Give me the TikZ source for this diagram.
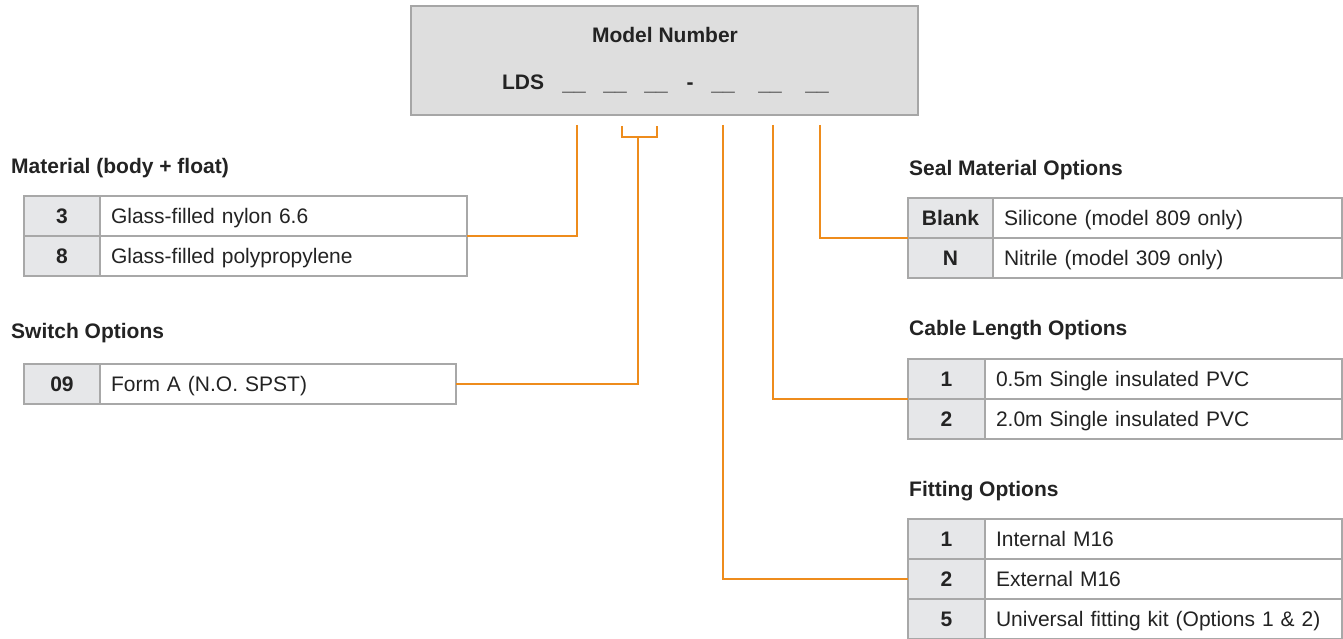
\documentclass[tikz,border=0pt]{standalone}
\usepackage{fontspec}
\setmainfont{Liberation Sans}
\usepackage{tikz}
\usetikzlibrary{positioning,fit}
\definecolor{txt}{RGB}{35,35,35}
\definecolor{grid}{RGB}{168,168,168}
\definecolor{keyfill}{RGB}{230,231,233}
\definecolor{boxfill}{RGB}{222,222,222}
\definecolor{boxline}{RGB}{166,166,166}
\definecolor{leadc}{RGB}{238,140,28}
\newcommand{\bfsz}{\fontsize{21}{25}\selectfont\bfseries}

\begin{document}
\begin{tikzpicture}[x=1pt,y=-1pt,font=\fontsize{21}{25}\selectfont,text=txt,
 cell/.style={draw=grid,line width=1.8pt,outer sep=0pt,inner sep=0pt,minimum height=40pt,
  text height=15pt,text depth=0.5pt},
 key/.style={cell,fill=keyfill,font=\bfsz},
 opt/.style={cell,fill=white,inner xsep=11pt,align=left},
 hd/.style={anchor=west,inner sep=0pt,font=\bfsz},
 ch/.style={anchor=base,font=\bfsz},
 ld/.style={draw=leadc,line width=1.8pt}]
\useasboundingbox (0,0) rectangle (1343,639);

% model number box
\node[draw=boxline,fill=boxfill,line width=1.8pt,minimum width=507pt,minimum height=109pt] (model) at (664.5,60.5) {};
\node[font=\bfsz] (title) at (665,35) {Model Number};
\node[ch] (lds) at (523,90) {LDS};
\node[ch] (u1) at (574,91) {\_\_};
\node[ch] (u2) at (615,91) {\_\_};
\node[ch] (u3) at (656,91) {\_\_};
\node[ch] (dash) at (690,90) {-};
\node[ch] (u4) at (723,91) {\_\_};
\node[ch] (u5) at (770,91) {\_\_};
\node[ch] (u6) at (817,91) {\_\_};

% material
\node[hd] (hmat) at (11,168) {Material (body + float)};
\node[key,minimum width=76pt,anchor=north west] (m1k) at (24,196) {3};
\node[opt,text width=345pt,right=0pt of m1k] (m1) {Glass-filled nylon 6.6};
\node[key,minimum width=76pt,below=0pt of m1k] (m2k) {8};
\node[opt,text width=345pt,right=0pt of m2k] (m2) {Glass-filled polypropylene};
\node[fit=(m1k)(m2),inner sep=0pt] (mat) {};

% switch
\node[hd] (hsw) at (11,333) {Switch Options};
\node[key,minimum width=76pt,anchor=north west] (s1k) at (24,364) {09};
\node[opt,text width=334pt,right=0pt of s1k] (s1) {Form A (N.O. SPST)};
\node[fit=(s1k)(s1),inner sep=0pt] (sw) {};

% seal material
\node[hd] (hseal) at (909,170) {Seal Material Options};
\node[key,minimum width=85pt,anchor=north west] (e1k) at (908,198) {Blank};
\node[opt,text width=327pt,right=0pt of e1k] (e1) {Silicone (model 809 only)};
\node[key,minimum width=85pt,below=0pt of e1k] (e2k) {N};
\node[opt,text width=327pt,right=0pt of e2k] (e2) {Nitrile (model 309 only)};
\node[fit=(e1k)(e2),inner sep=0pt] (seal) {};

% cable length
\node[hd] (hcab) at (909,330) {Cable Length Options};
\node[key,minimum width=77pt,anchor=north west] (c1k) at (908,359) {1};
\node[opt,text width=335pt,right=0pt of c1k] (c1) {0.5m Single insulated PVC};
\node[key,minimum width=77pt,below=0pt of c1k] (c2k) {2};
\node[opt,text width=335pt,right=0pt of c2k] (c2) {2.0m Single insulated PVC};
\node[fit=(c1k)(c2),inner sep=0pt] (cab) {};

% fitting
\node[hd] (hfit) at (909,491) {Fitting Options};
\node[key,minimum width=77pt,anchor=north west] (f1k) at (908,519) {1};
\node[opt,text width=335pt,right=0pt of f1k] (f1) {Internal M16};
\node[key,minimum width=77pt,below=0pt of f1k] (f2k) {2};
\node[opt,text width=335pt,right=0pt of f2k] (f2) {External M16};
\node[key,minimum width=77pt,below=0pt of f2k] (f3k) {5};
\node[opt,text width=335pt,right=0pt of f3k] (f3) {Universal fitting kit (Options 1 \& 2)};
\node[fit=(f1k)(f3),inner sep=0pt] (fitg) {};

% leader lines
\coordinate (l1) at (577,125);
\coordinate (l2a) at (622,126);
\coordinate (l2b) at (657,126);
\coordinate (l2) at (638,138);
\coordinate (l4) at (723,125);
\coordinate (l5) at (773,125);
\coordinate (l6) at (820,125);
\draw[ld] (l1) |- (mat.east);
\draw[ld] (l2a) -- ++(0,11) -| (l2b);
\draw[ld] (l2) |- (sw.east);
\draw[ld] (l4) |- (fitg.west);
\draw[ld] (l5) |- (cab.west);
\draw[ld] (l6) |- (seal.west);
\end{tikzpicture}
\end{document}
